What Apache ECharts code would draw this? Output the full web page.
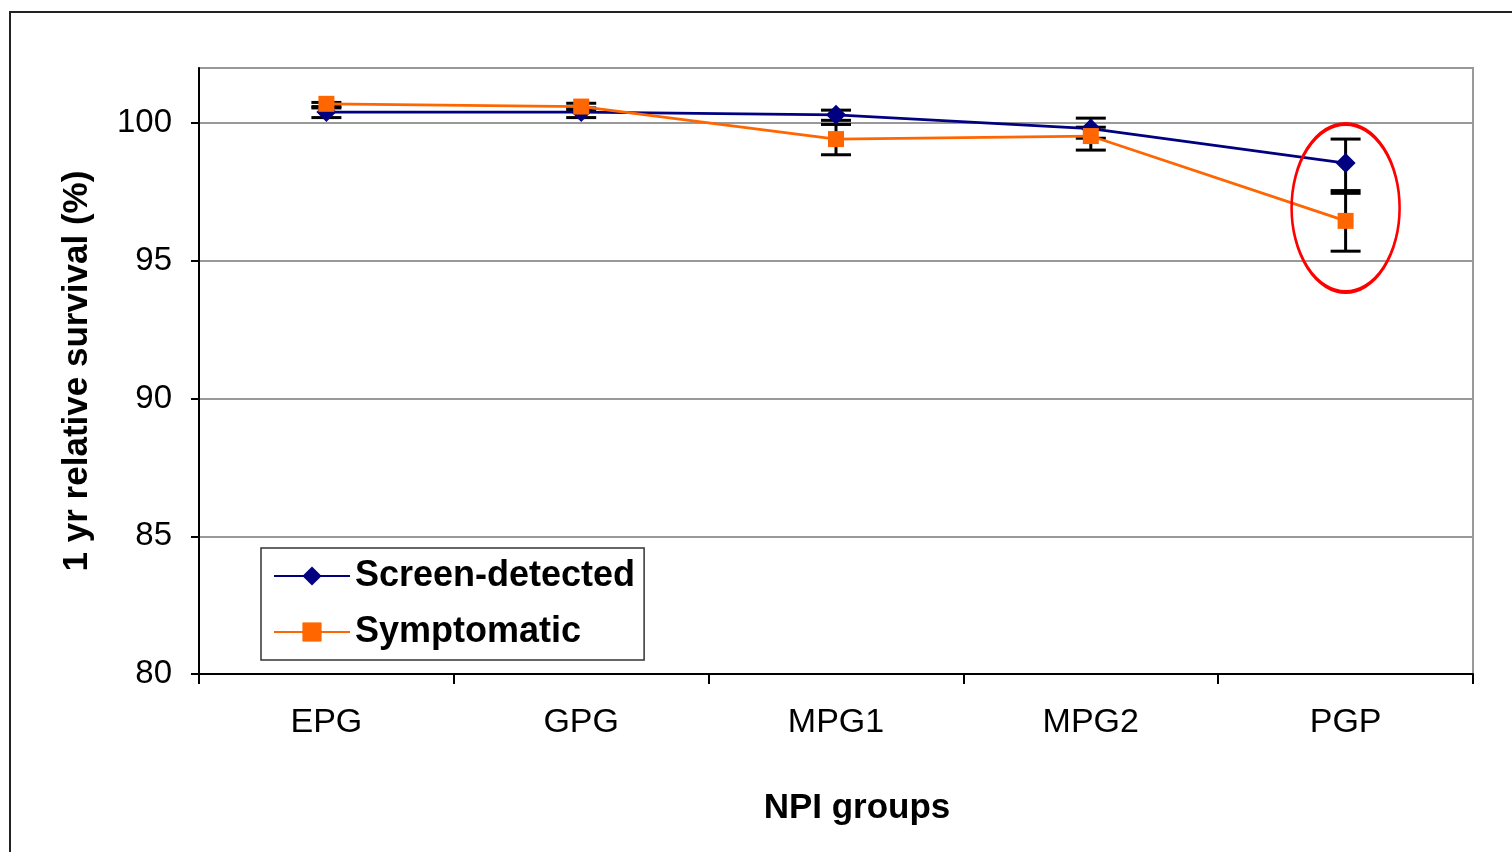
<!DOCTYPE html>
<html>
<head>
<meta charset="utf-8">
<script src="https://cdn.jsdelivr.net/npm/echarts@6/dist/echarts.min.js"></script>
<style>
  html, body { margin: 0; padding: 0; background: #fff; }
  #chart { width: 1512px; height: 852px; }
</style>
</head>
<body>
<div id="chart"></div>
<script>
// NPI groups on the x axis
var groups = ['EPG', 'GPG', 'MPG1', 'MPG2', 'PGP'];
var yTicks = [80, 85, 90, 95, 100];

// 1 yr relative survival (%)
var screenDetected = [100.4, 100.4, 100.3, 99.8, 98.55];
var screenHigh     = [100.55, 100.55, 100.47, 100.18, 99.42];
var screenLow      = [100.2, 100.2, 100.1, 99.45, 97.45];

var symptomatic    = [100.7, 100.6, 99.42, 99.53, 96.45];
var sympHigh       = [100.75, 100.72, 99.95, 99.85, 97.55];
var sympLow        = [100.6, 100.48, 98.85, 99.02, 95.35];

var FONT = 'Liberation Sans, Arial, sans-serif';

function errorData(low, high) {
  return groups.map(function (g, i) { return [i, low[i], high[i]]; });
}

function renderErrorBar(params, api) {
  var x = api.value(0);
  var lo = api.coord([x, api.value(1)]);
  var hi = api.coord([x, api.value(2)]);
  var w = 15;
  var st = { stroke: '#000', lineWidth: 3 };
  return {
    type: 'group',
    children: [
      { type: 'line', shape: { x1: hi[0], y1: hi[1], x2: lo[0], y2: lo[1] }, style: st },
      { type: 'line', shape: { x1: hi[0] - w, y1: hi[1], x2: hi[0] + w, y2: hi[1] }, style: st },
      { type: 'line', shape: { x1: lo[0] - w, y1: lo[1], x2: lo[0] + w, y2: lo[1] }, style: st }
    ]
  };
}

var frame = {
  type: 'rect',
  z: -10,
  shape: { x: 10, y: 12, width: 1700, height: 1000 },
  style: { fill: 'none', stroke: '#222', lineWidth: 2 }
};

var chart = echarts.init(document.getElementById('chart'), null, { renderer: 'canvas' });

chart.setOption({
  backgroundColor: '#fff',
  animation: false,
  textStyle: { fontFamily: FONT },
  graphic: [frame],
  grid: {
    left: 199, right: 39, top: 68, bottom: 178,
    show: true, borderColor: '#999', borderWidth: 2
  },
  legend: {
    orient: 'vertical',
    left: 261, top: 548,
    padding: [10, 9, 10, 12],
    itemGap: 20,
    itemWidth: 76, itemHeight: 24,
    backgroundColor: '#fff',
    borderColor: '#333', borderWidth: 1.5,
    textStyle: { fontFamily: FONT, fontSize: 36, fontWeight: 'bold', color: '#000', lineHeight: 36 },
    data: ['Screen-detected', 'Symptomatic']
  },
  xAxis: {
    type: 'category',
    data: groups,
    name: 'NPI groups',
    nameLocation: 'middle',
    nameGap: 117,
    nameTextStyle: { fontFamily: FONT, fontSize: 35, fontWeight: 'bold', color: '#000', padding: [0, 0, 0, 42] },
    axisLine: { lineStyle: { color: '#000', width: 2 } },
    axisTick: { show: true, length: 10, lineStyle: { color: '#000', width: 2 } },
    axisLabel: { fontFamily: FONT, fontSize: 34, color: '#000', margin: 32 },
    splitLine: { show: false }
  },
  yAxis: {
    type: 'value',
    min: 80, max: 102, interval: 5,
    name: '1 yr relative survival (%)',
    nameLocation: 'middle',
    nameGap: 104,
    nameRotate: 90,
    nameTextStyle: { fontFamily: FONT, fontSize: 35, fontWeight: 'bold', color: '#000' },
    axisLine: { show: true, lineStyle: { color: '#000', width: 2 } },
    axisTick: { show: true, length: 8, customValues: yTicks, lineStyle: { color: '#000', width: 2 } },
    axisLabel: {
      fontFamily: FONT, fontSize: 33, color: '#000', margin: 27,
      customValues: yTicks
    },
    splitLine: { show: true, lineStyle: { color: '#999', width: 2 } }
  },
  series: [
    {
      type: 'custom',
      name: 'screenErr',
      z: 1,
      renderItem: renderErrorBar,
      encode: { x: 0, y: [1, 2] },
      data: errorData(screenLow, screenHigh),
      silent: true
    },
    {
      type: 'custom',
      name: 'sympErr',
      z: 1,
      renderItem: renderErrorBar,
      encode: { x: 0, y: [1, 2] },
      data: errorData(sympLow, sympHigh),
      silent: true
    },
    {
      name: 'Screen-detected',
      type: 'line',
      z: 3,
      data: screenDetected,
      symbol: 'diamond',
      symbolSize: 20,
      color: '#000080',
      lineStyle: { color: '#000080', width: 2.8 },
      itemStyle: { color: '#000080' }
    },
    {
      name: 'Symptomatic',
      type: 'line',
      z: 4,
      data: symptomatic,
      symbol: 'rect',
      symbolSize: 16,
      color: '#FF6600',
      lineStyle: { color: '#FF6600', width: 2.8 },
      itemStyle: { color: '#FF6600' }
    }
  ]
});

// red ellipse highlighting the PGP group
var c = chart.convertToPixel({ gridIndex: 0 }, [4, 96.92]);
chart.setOption({
  graphic: [frame, {
    type: 'circle',
    z: 100,
    x: c[0], y: c[1],
    scaleX: 54 / 84,
    shape: { cx: 0, cy: 0, r: 84 },
    style: { fill: 'none', stroke: '#ff0000', lineWidth: 4, strokeNoScale: true }
  }]
});
</script>
</body>
</html>
